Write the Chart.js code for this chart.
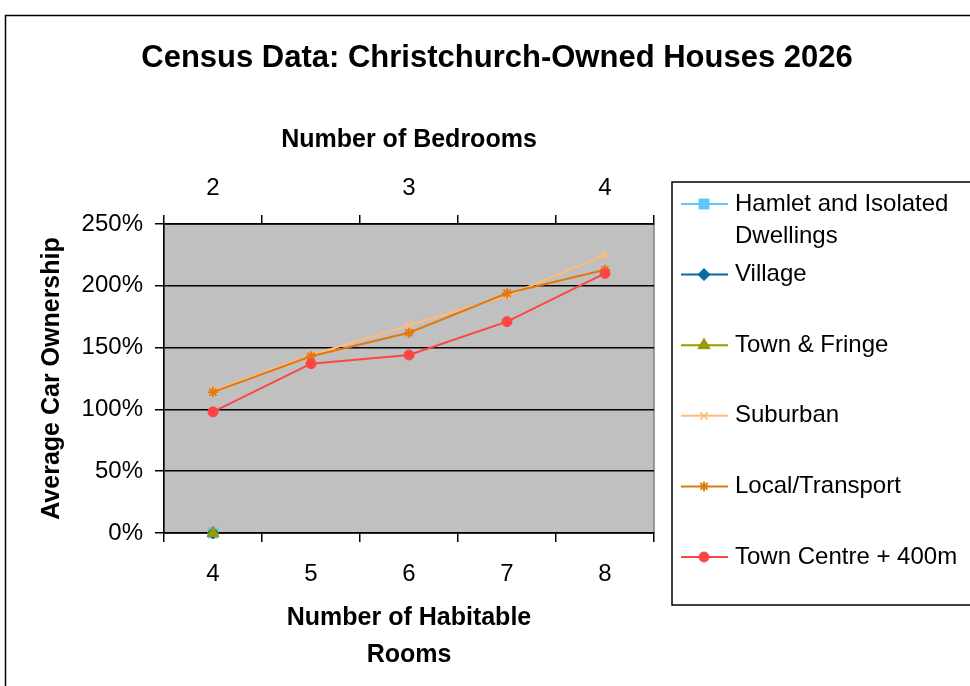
<!DOCTYPE html>
<html>
<head>
  <title>Census Data: Christchurch-Owned Houses 2026</title>
  <script src="https://cdn.jsdelivr.net/npm/chart.js@4.4.0/dist/chart.umd.min.js"></script>
  <style>
    body { margin: 0; background: #fff; }
  </style>
</head>
<body>
  <canvas id="carChart" width="970" height="686"></canvas>

  <script>
    // chart data
    const roomLabels = ['4', '5', '6', '7', '8'];
    const bedroomLabels = ['2', '', '3', '', '4'];
    const yTicks = [0, 50, 100, 150, 200, 250];

    const seriesNames = ['Hamlet and Isolated Dwellings', 'Village', 'Town & Fringe',
                         'Suburban', 'Local/Transport', 'Town Centre + 400m'];
    const hamlet = [0, null, null, null, null];
    const village = [0, null, null, null, null];
    const townFringe = [0, null, null, null, null];
    const suburban = [115, 144, 168, 192, 225];
    const localTransport = [114, 143, 162, 194, 213];
    const townCentre = [98, 137, 144, 171, 210];

    const seriesValues = [hamlet, village, townFringe, suburban, localTransport, townCentre];
    const seriesColors = ['#5EC8F8', '#0B6AA0', '#999900', '#FFBB7A', '#E2780E', '#FF4444'];
    const seriesPoints = ['rect', 'rectRot', 'triangle', 'crossRot', 'star', 'circle'];
    const pointSizes = [7, 6, 7, 5, 5, 5];

    const FONT = '"Liberation Sans", Arial, sans-serif';

    const datasets = seriesNames.map((name, i) => ({
      label: name,
      data: seriesValues[i],
      borderColor: seriesColors[i],
      backgroundColor: seriesColors[i],
      borderWidth: 2,
      pointStyle: seriesPoints[i],
      pointRadius: pointSizes[i],
      pointBorderWidth: (seriesPoints[i] === 'star' || seriesPoints[i] === 'crossRot') ? 1.8 : 1,
      order: seriesNames.length - i,
      clip: false
    }));

    // grey plot area + frames + texts
    const decor = {
      id: 'decor',
      beforeDraw(chart) {
        const { ctx, chartArea: a } = chart;
        ctx.save();
        ctx.fillStyle = '#fff';
        ctx.fillRect(0, 0, chart.width, chart.height);
        ctx.fillStyle = '#C0C0C0';
        ctx.fillRect(a.left, a.top, a.right - a.left, a.bottom - a.top);
        ctx.strokeStyle = '#808080';
        ctx.lineWidth = 1.5;
        ctx.strokeRect(a.left, a.top, a.right - a.left, a.bottom - a.top);
        ctx.restore();
      },
      afterDraw(chart) {
        const { ctx, chartArea: a } = chart;
        ctx.save();
        // outer frame
        ctx.strokeStyle = '#000';
        ctx.lineWidth = 1.5;
        ctx.strokeRect(5.5, 15.5, 1100, 800);

        // titles
        ctx.fillStyle = '#000';
        ctx.textAlign = 'center';
        ctx.textBaseline = 'middle';
        ctx.font = 'bold 31px ' + FONT;
        ctx.fillText('Census Data: Christchurch-Owned Houses 2026', 497, 58);
        ctx.font = 'bold 25px ' + FONT;
        const mid = (a.left + a.right) / 2;
        ctx.fillText('Number of Bedrooms', mid, 140);
        ctx.fillText('Number of Habitable', mid, 618);
        ctx.fillText('Rooms', mid, 655);
        ctx.save();
        ctx.translate(52, (a.top + a.bottom) / 2);
        ctx.rotate(-Math.PI / 2);
        ctx.fillText('Average Car Ownership', 0, 0);
        ctx.restore();

        // legend
        ctx.lineWidth = 1.5;
        ctx.strokeStyle = '#000';
        ctx.strokeRect(672, 182, 400, 423);
        ctx.font = '24px ' + FONT;
        ctx.textAlign = 'left';
        chart.data.datasets.forEach((ds, i) => {
          const y = 204 + i * 70.6;
          ctx.strokeStyle = ds.borderColor;
          ctx.lineWidth = 2;
          ctx.beginPath();
          ctx.moveTo(681, y);
          ctx.lineTo(728, y);
          ctx.stroke();
          ctx.fillStyle = ds.backgroundColor;
          ctx.lineWidth = ds.pointBorderWidth;
          Chart.helpers.drawPoint(ctx, {
            pointStyle: ds.pointStyle, radius: ds.pointRadius, rotation: 0, borderWidth: ds.pointBorderWidth
          }, 704, y);
          // wrap long names
          const words = ds.label.split(' ');
          const lines = [];
          let cur = '';
          words.forEach(w => {
            const t = cur ? cur + ' ' + w : w;
            if (cur && ctx.measureText(t).width > 260) { lines.push(cur); cur = w; } else cur = t;
          });
          lines.push(cur);
          ctx.fillStyle = '#000';
          lines.forEach((ln, k) => ctx.fillText(ln, 735, y + k * 32));
        });
        ctx.restore();
      }
    };

    const ctx = document.getElementById('carChart').getContext('2d');
    new Chart(ctx, {
      type: 'line',
      data: { labels: roomLabels, datasets: datasets },
      options: {
        responsive: false,
        devicePixelRatio: 1,
        animation: false,
        layout: { padding: { left: 0, top: 0, right: 316, bottom: 0 } },
        plugins: { legend: { display: false }, tooltip: { enabled: false } },
        scales: {
          x: {
            type: 'category',
            position: 'bottom',
            offset: true,
            grid: { offset: true, drawOnChartArea: false, tickLength: 9, color: '#000', lineWidth: 1.5 },
            border: { color: '#000', width: 1.5 },
            ticks: { color: '#000', padding: 18, font: { family: FONT, size: 24 } },
            afterFit(s) { s.height = 153; }
          },
          x2: {
            type: 'category',
            position: 'top',
            labels: bedroomLabels,
            offset: true,
            grid: { offset: true, drawOnChartArea: false, tickLength: 9, color: '#000', lineWidth: 1.5 },
            border: { color: '#000', width: 1.5 },
            ticks: { color: '#000', padding: 12, autoSkip: false, font: { family: FONT, size: 24 } },
            afterFit(s) { s.height = 224; }
          },
          y: {
            min: yTicks[0],
            max: yTicks[yTicks.length - 1],
            afterBuildTicks(s) { s.ticks = yTicks.map(v => ({ value: v })); },
            grid: { color: '#000', lineWidth: 1.5, tickLength: 9 },
            border: { color: '#000', width: 1.5 },
            ticks: { color: '#000', padding: 12, font: { family: FONT, size: 24 }, callback: v => v + '%' },
            afterFit(s) { s.width = 164; }
          }
        }
      },
      plugins: [decor]
    });
  </script>
</body>
</html>
